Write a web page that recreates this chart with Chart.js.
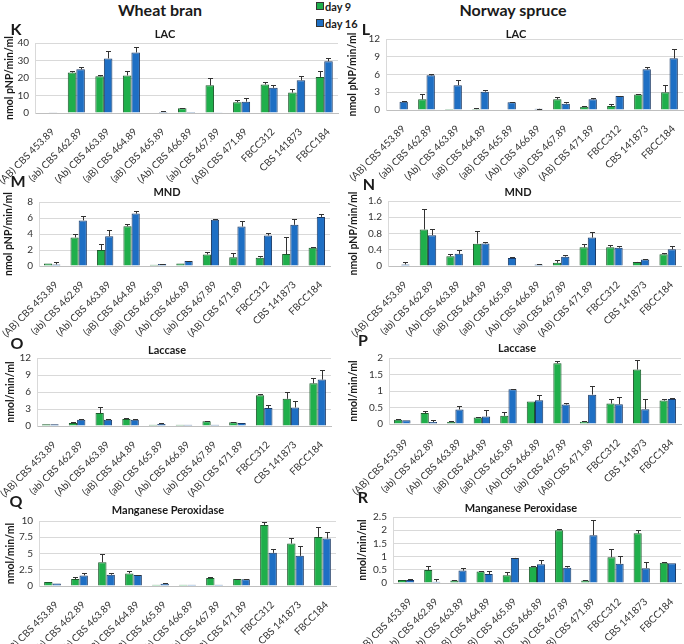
<!DOCTYPE html>
<html>
<head>
<meta charset="utf-8">
<script src="https://cdn.jsdelivr.net/npm/chart.js@4.4.1/dist/chart.umd.min.js"></script>
<style>
  body { margin: 0; width: 684px; height: 644px; position: relative; overflow: hidden; background: #fff; font-family: Lato, "Open Sans", sans-serif; }
  .lbl { position: absolute; font-weight: bold; color: #1a1a1a; white-space: nowrap; transform: translate(-50%, -50%); }
  .sq { position: absolute; width: 6px; height: 6px; border: 1px solid #333; }
  canvas { position: absolute; }
</style>
</head>
<body>
<div class="lbl" style="left:160px;top:9px;font-size:16px">Wheat bran</div>
<div class="lbl" style="left:513px;top:9px;font-size:16px">Norway spruce</div>
<div class="sq" style="left:316px;top:2px;background:#1faf4b"></div>
<div class="lbl" style="left:325px;top:6px;font-size:11px;transform:translate(0,-50%)">day 9</div>
<div class="sq" style="left:316px;top:19px;background:#1e6fc4"></div>
<div class="lbl" style="left:325px;top:23px;font-size:11px;transform:translate(0,-50%)">day 16</div>

<script>
const categories = ['(AB) CBS 453.89', '(ab) CBS 462.89', '(Ab) CBS 463.89', '(aB) CBS 464.89',
  '(aB) CBS 465.89', '(Ab) CBS 466.89', '(ab) CBS 467.89', '(AB) CBS 471.89',
  'FBCC312', 'CBS 141873', 'FBCC184'];
const seriesNames = ['day 9', 'day 16'];

// K - wheat bran LAC
const kTicks = [0, 10, 20, 30, 40];
const kDay9 = [0.3, 23.1, 21.0, 21.5, 0.3, 2.7, 15.8, 6.2, 16.3, 11.7, 20.6];
const kErr9 = [0, 1.1, 0.7, 2.5, 0, 0.3, 4.0, 1.1, 1.6, 2.3, 3.4];
const kDay16 = [0.2, 25.0, 31.2, 34.6, 0.6, 0.6, 0.5, 6.5, 14.4, 18.7, 29.6];
const kErr16 = [0, 1.2, 4.0, 2.9, 0.3, 0, 0, 2.2, 1.8, 2.3, 1.6];

// L - norway spruce LAC
const lTicks = [0, 3, 6, 9, 12];
const lDay9 = [0, 1.8, 0.15, 0.15, 0.1, 0, 1.8, 0.56, 0.68, 2.6, 3.0];
const lErr9 = [0, 0.85, 0, 0.25, 0, 0, 0.45, 0.05, 0.27, 0.1, 1.2];
const lDay16 = [1.4, 5.86, 4.2, 3.1, 1.3, 0.2, 1.07, 1.8, 2.37, 6.87, 8.73];
const lErr16 = [0.1, 0.3, 0.87, 0.28, 0.1, 0.05, 0.33, 0.2, 0.08, 0.4, 1.6];

// M - wheat bran MND
const mTicks = [0, 2, 4, 6, 8];
const mDay9 = [0.3, 3.57, 2.0, 4.98, 0.15, 0.3, 1.45, 1.08, 1.04, 1.5, 2.28];
const mErr9 = [0, 0.43, 0.8, 0.22, 0, 0, 0.35, 0.5, 0.26, 2.15, 0.07];
const mDay16 = [0.2, 5.7, 3.73, 6.55, 0.25, 0.62, 5.77, 4.94, 3.82, 5.15, 6.14];
const mErr16 = [0.25, 0.5, 0.83, 0.35, 0.05, 0.05, 0.05, 0.7, 0.33, 0.78, 0.41];

// N - norway spruce MND
const nTicks = [0, 0.4, 0.8, 1.2, 1.6];
const nDay9 = [0, 0.9, 0.24, 0.55, 0, 0, 0.08, 0.46, 0.46, 0.1, 0.29];
const nErr9 = [0, 0.5, 0.05, 0.3, 0, 0, 0.06, 0.09, 0.05, 0.01, 0.03];
const nDay16 = [0.04, 0.76, 0.3, 0.555, 0.2, 0.04, 0.23, 0.7, 0.45, 0.16, 0.41];
const nErr16 = [0.05, 0.14, 0.09, 0.025, 0.02, 0.005, 0.05, 0.14, 0.04, 0.01, 0.08];

// O - wheat bran laccase
const oTicks = [0, 3, 6, 9, 12];
const oDay9 = [0.3, 0.53, 2.28, 1.23, 0.2, 0.2, 0.82, 0.64, 5.44, 4.8, 7.54];
const oErr9 = [0, 0.12, 1.12, 0.17, 0, 0, 0.12, 0.06, 0.23, 1.16, 0.94];
const oDay16 = [0.3, 1.1, 1.1, 1.1, 0.35, 0.2, 0.2, 0.53, 3.16, 3.27, 8.19];
const oErr16 = [0, 0.1, 0.1, 0.1, 0.1, 0, 0, 0, 0.47, 1.12, 1.63];

// P - norway spruce laccase
const pTicks = [0, 0.5, 1, 1.5, 2];
const pDay9 = [0.13, 0.33, 0.06, 0.2, 0.25, 0.68, 1.84, 0.07, 0.62, 1.65, 0.71];
const pErr9 = [0.01, 0.07, 0.04, 0.01, 0.12, 0, 0.06, 0.01, 0.15, 0.28, 0.04];
const pDay16 = [0.11, 0.06, 0.44, 0.23, 1.055, 0.72, 0.59, 0.89, 0.6, 0.45, 0.76];
const pErr16 = [0, 0.07, 0.12, 0.18, 0.015, 0.16, 0.06, 0.25, 0.23, 0.3, 0.02];

// Q - wheat bran manganese peroxidase
const qTicks = [0, 2.5, 5, 7.5, 10];
const qDay9 = [0.6, 1.07, 3.67, 1.94, 0.2, 0.2, 1.22, 1.07, 9.39, 6.53, 7.55];
const qErr9 = [0, 0.36, 1.33, 0.41, 0, 0, 0.21, 0.08, 0.51, 0.92, 1.53];
const qDay16 = [0.4, 1.63, 1.73, 1.68, 0.35, 0.2, 0.2, 1.02, 5.1, 4.64, 7.3];
const qErr16 = [0, 0.31, 0.21, 0.07, 0.05, 0, 0, 0.03, 0.6, 1.48, 1.0];

// R - norway spruce manganese peroxidase
const rTicks = [0, 0.5, 1, 1.5, 2, 2.5];
const rDay9 = [0.11, 0.49, 0.09, 0.44, 0.29, 0.62, 2.0, 0.09, 0.98, 1.88, 0.77];
const rErr9 = [0, 0.17, 0.01, 0.01, 0.11, 0.01, 0.06, 0.01, 0.3, 0.13, 0.01];
const rDay16 = [0.11, 0.05, 0.47, 0.34, 0.95, 0.71, 0.58, 1.81, 0.73, 0.56, 0.745];
const rErr16 = [0.04, 0.1, 0.09, 0.11, 0.01, 0.17, 0.06, 0.56, 0.28, 0.25, 0];

const panels = [
  { key: 'K', title: 'LAC', yTitle: 'nmol pNP/min/ml', ticks: kTicks, d9: kDay9, e9: kErr9, d16: kDay16, e16: kErr16 },
  { key: 'L', title: 'LAC', yTitle: 'nmol pNP/min/ml', ticks: lTicks, d9: lDay9, e9: lErr9, d16: lDay16, e16: lErr16 },
  { key: 'M', title: 'MND', yTitle: 'nmol pNP/min/ml', ticks: mTicks, d9: mDay9, e9: mErr9, d16: mDay16, e16: mErr16 },
  { key: 'N', title: 'MND', yTitle: 'nmol pNP/min/ml', ticks: nTicks, d9: nDay9, e9: nErr9, d16: nDay16, e16: nErr16 },
  { key: 'O', title: 'Laccase', yTitle: 'nmol/min/ml', ticks: oTicks, d9: oDay9, e9: oErr9, d16: oDay16, e16: oErr16 },
  { key: 'P', title: 'Laccase', yTitle: 'nmol/min/ml', ticks: pTicks, d9: pDay9, e9: pErr9, d16: pDay16, e16: pErr16 },
  { key: 'Q', title: 'Manganese Peroxidase', yTitle: 'nmol/min/ml', ticks: qTicks, d9: qDay9, e9: qErr9, d16: qDay16, e16: qErr16 },
  { key: 'R', title: 'Manganese Peroxidase', yTitle: 'nmol/min/ml', ticks: rTicks, d9: rDay9, e9: rErr9, d16: rDay16, e16: rErr16 }
];

// page layout: plot box [left, top, right, bottom], letter and title centres, y title x
const frames = {
  K: { col: 0, plot: [35, 43, 338, 113], letter: [16, 28], head: [165, 33], yt: 10 },
  L: { col: 1, plot: [386, 39, 683, 110], letter: [366, 28], head: [516, 33], yt: 353 },
  M: { col: 0, plot: [39, 202, 330, 266], letter: [18, 180], head: [167, 191], yt: 9 },
  N: { col: 1, plot: [388, 201, 681, 266], letter: [369, 183], head: [518, 191], yt: 354 },
  O: { col: 0, plot: [37, 358, 331, 426], letter: [17, 342], head: [167, 349], yt: 11 },
  P: { col: 1, plot: [389, 358, 681, 424], letter: [363, 339], head: [517, 347], yt: 354 },
  Q: { col: 0, plot: [39, 521, 336, 586], letter: [16, 500], head: [168, 509], yt: 11 },
  R: { col: 1, plot: [393, 517, 681, 583], letter: [363, 496], head: [521, 507], yt: 363 }
};

const GREEN = '#1faf4b';
const BLUE = '#1e6fc4';

Chart.defaults.font.family = 'Lato, "Open Sans", sans-serif';

const errorBars = {
  id: 'errorBars',
  afterDatasetsDraw(chart) {
    const { ctx } = chart;
    const y = chart.scales.y;
    ctx.save();
    ctx.strokeStyle = '#333';
    ctx.lineWidth = 1;
    chart.data.datasets.forEach((ds, i) => {
      chart.getDatasetMeta(i).data.forEach((bar, j) => {
        const e = ds.errors[j];
        if (!e) return;
        const top = Math.round(y.getPixelForValue(ds.data[j] + e)) + 0.5;
        const x = Math.round(bar.x) + 0.5;
        ctx.beginPath();
        ctx.moveTo(x, bar.y);
        ctx.lineTo(x, top);
        ctx.moveTo(x - 2.5, top);
        ctx.lineTo(x + 2.5, top);
        ctx.stroke();
      });
    });
    ctx.restore();
  }
};

function addText(text, x, y, size) {
  const d = document.createElement('div');
  d.className = 'lbl';
  d.style.left = x + 'px';
  d.style.top = y + 'px';
  d.style.fontSize = size + 'px';
  d.textContent = text;
  document.body.appendChild(d);
}

panels.forEach((p) => {
  const f = frames[p.key];
  const [pl, pt, pr, pb] = f.plot;
  const left = f.col * 342;
  const top = pt - 22;
  const width = 342;
  const xh = 72;
  const height = pb - top + xh;

  const canvas = document.createElement('canvas');
  canvas.style.left = left + 'px';
  canvas.style.top = top + 'px';
  canvas.style.width = width + 'px';
  canvas.style.height = height + 'px';
  canvas.width = width;
  canvas.height = height;
  document.body.appendChild(canvas);

  addText(p.key, f.letter[0], f.letter[1], 16);
  addText(p.title, f.head[0], f.head[1], 11);

  new Chart(canvas, {
    type: 'bar',
    data: {
      labels: categories,
      datasets: [
        { label: seriesNames[0], data: p.d9, errors: p.e9, backgroundColor: GREEN, borderColor: '#1d5a2c', borderWidth: 1 },
        { label: seriesNames[1], data: p.d16, errors: p.e16, backgroundColor: BLUE, borderColor: '#1b3a66', borderWidth: 1 }
      ]
    },
    options: {
      responsive: false,
      animation: false,
      categoryPercentage: 0.62,
      barPercentage: 1,
      layout: { padding: { top: 22, left: 0, right: left + width - pr, bottom: 0 } },
      plugins: { legend: { display: false }, tooltip: { enabled: false } },
      scales: {
        x: {
          grid: { display: false },
          border: { color: '#bfbfbf' },
          ticks: { autoSkip: false, minRotation: 45, maxRotation: 45, color: '#333', font: { size: 10 }, padding: 5, labelOffset: 4 },
          afterFit(s) { s.height = xh; s.paddingLeft = 0; s.paddingRight = 0; }
        },
        y: {
          min: 0,
          max: p.ticks[p.ticks.length - 1],
          grid: { color: '#d9d9d9', drawTicks: false },
          border: { color: '#d9d9d9' },
          ticks: { autoSkip: false, color: '#333', font: { size: 10 }, padding: 6, callback: (v) => String(v) },
          afterBuildTicks(s) { s.ticks = p.ticks.map((v) => ({ value: v })); },
          title: {
            display: true,
            text: p.yTitle,
            color: '#1a1a1a',
            font: { size: 10.5, weight: 'bold' },
            padding: { top: f.yt - left - 6.3, bottom: 0 }
          },
          afterFit(s) { s.width = pl - left; }
        }
      }
    },
    plugins: [errorBars]
  });
});
</script>
</body>
</html>
